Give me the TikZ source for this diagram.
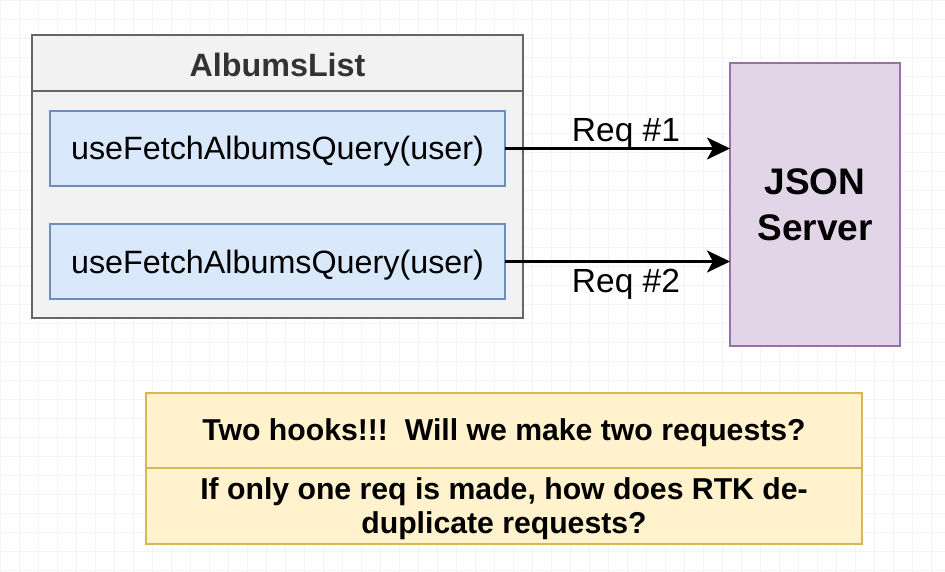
\documentclass[tikz,border=0pt]{standalone}
\usepackage{fontspec}
\setmainfont{Liberation Sans}
\usetikzlibrary{arrows.meta}
\definecolor{gridc}{HTML}{F4F4F4}
\definecolor{outerfill}{HTML}{F2F2F2}
\definecolor{outerdraw}{HTML}{666666}
\definecolor{bluefill}{HTML}{DAE8FC}
\definecolor{bluedraw}{HTML}{6C8EBF}
\definecolor{purpfill}{HTML}{E1D5E7}
\definecolor{purpdraw}{HTML}{9673A6}
\definecolor{yelfill}{HTML}{FFF2CC}
\definecolor{yeldraw}{HTML}{D6B656}
\definecolor{titletext}{HTML}{333333}
\tikzset{
  box/.style={rectangle, inner sep=0pt, outer sep=0pt},
  outerbox/.style={box, fill=outerfill, draw=outerdraw, line width=2pt},
  hookbox/.style={box, fill=bluefill, draw=bluedraw, line width=1.5pt, minimum width=455pt, minimum height=75pt, text height=23pt, text depth=0pt, font=\fontsize{32.3}{38}\selectfont},
  serverbox/.style={box, fill=purpfill, draw=purpdraw, line width=1.5pt, align=center, font=\fontsize{37}{46}\selectfont\bfseries},
  notebox/.style={box, fill=yelfill, draw=yeldraw, line width=1.5pt},
  notetext/.style={align=center, font=\fontsize{30.2}{34}\selectfont\bfseries},
  req/.style={line width=3pt, -{Stealth[length=23pt, width=22pt, inset=6pt]}},
  reqlabel/.style={anchor=base, inner sep=0pt, font=\fontsize{33.5}{38}\selectfont},
}
\begin{document}
\begin{tikzpicture}[x=1pt, y=-1pt]
\useasboundingbox (0,0) rectangle (945,572);
\fill[white] (0,0) rectangle (945,572);
% faint background grid
\draw[gridc, line width=0.8pt, step=19pt] (0,0) grid (945,572);

% AlbumsList container
\node[outerbox, minimum width=491pt, minimum height=283pt] (albums) at (277.5,176.5) {};
\coordinate (hdrL) at (32,91);
\coordinate (hdrR) at (523,91);
\draw[outerdraw, line width=2pt] (hdrL) -- (hdrR);
\node[inner sep=0pt, anchor=base, text=titletext, font=\fontsize{32.3}{38}\selectfont\bfseries] (title) at (277.5,77) {AlbumsList};

\node[hookbox] (hook1) at (277.5,148.5) {useFetchAlbumsQuery(user)};
\node[hookbox] (hook2) at (277.5,261.5) {useFetchAlbumsQuery(user)};

% JSON Server
\node[serverbox, minimum width=170pt, minimum height=283pt] (server) at (815,204.5) {JSON\\Server};

% arrows
\draw[req] (hook1.east) -- (hook1.east -| server.west);
\draw[req] (hook2.east) -- (hook2.east -| server.west);
\node[reqlabel] (lab1) at (626,142) {Req \#1};
\node[reqlabel] (lab2) at (626,292) {Req \#2};

% question box
\node[notebox, minimum width=716pt, minimum height=151pt] (note) at (504,468.5) {};
\coordinate (divL) at (146,468);
\coordinate (divR) at (862,468);
\draw[yeldraw, line width=1.5pt] (divL) -- (divR);
\node[notetext] (q1) at (504,433) {Two hooks!!!\ \ Will we make two requests?};
\node[notetext] (q2) at (504,509) {If only one req is made, how does RTK de-\\duplicate requests?};
\end{tikzpicture}
\end{document}
